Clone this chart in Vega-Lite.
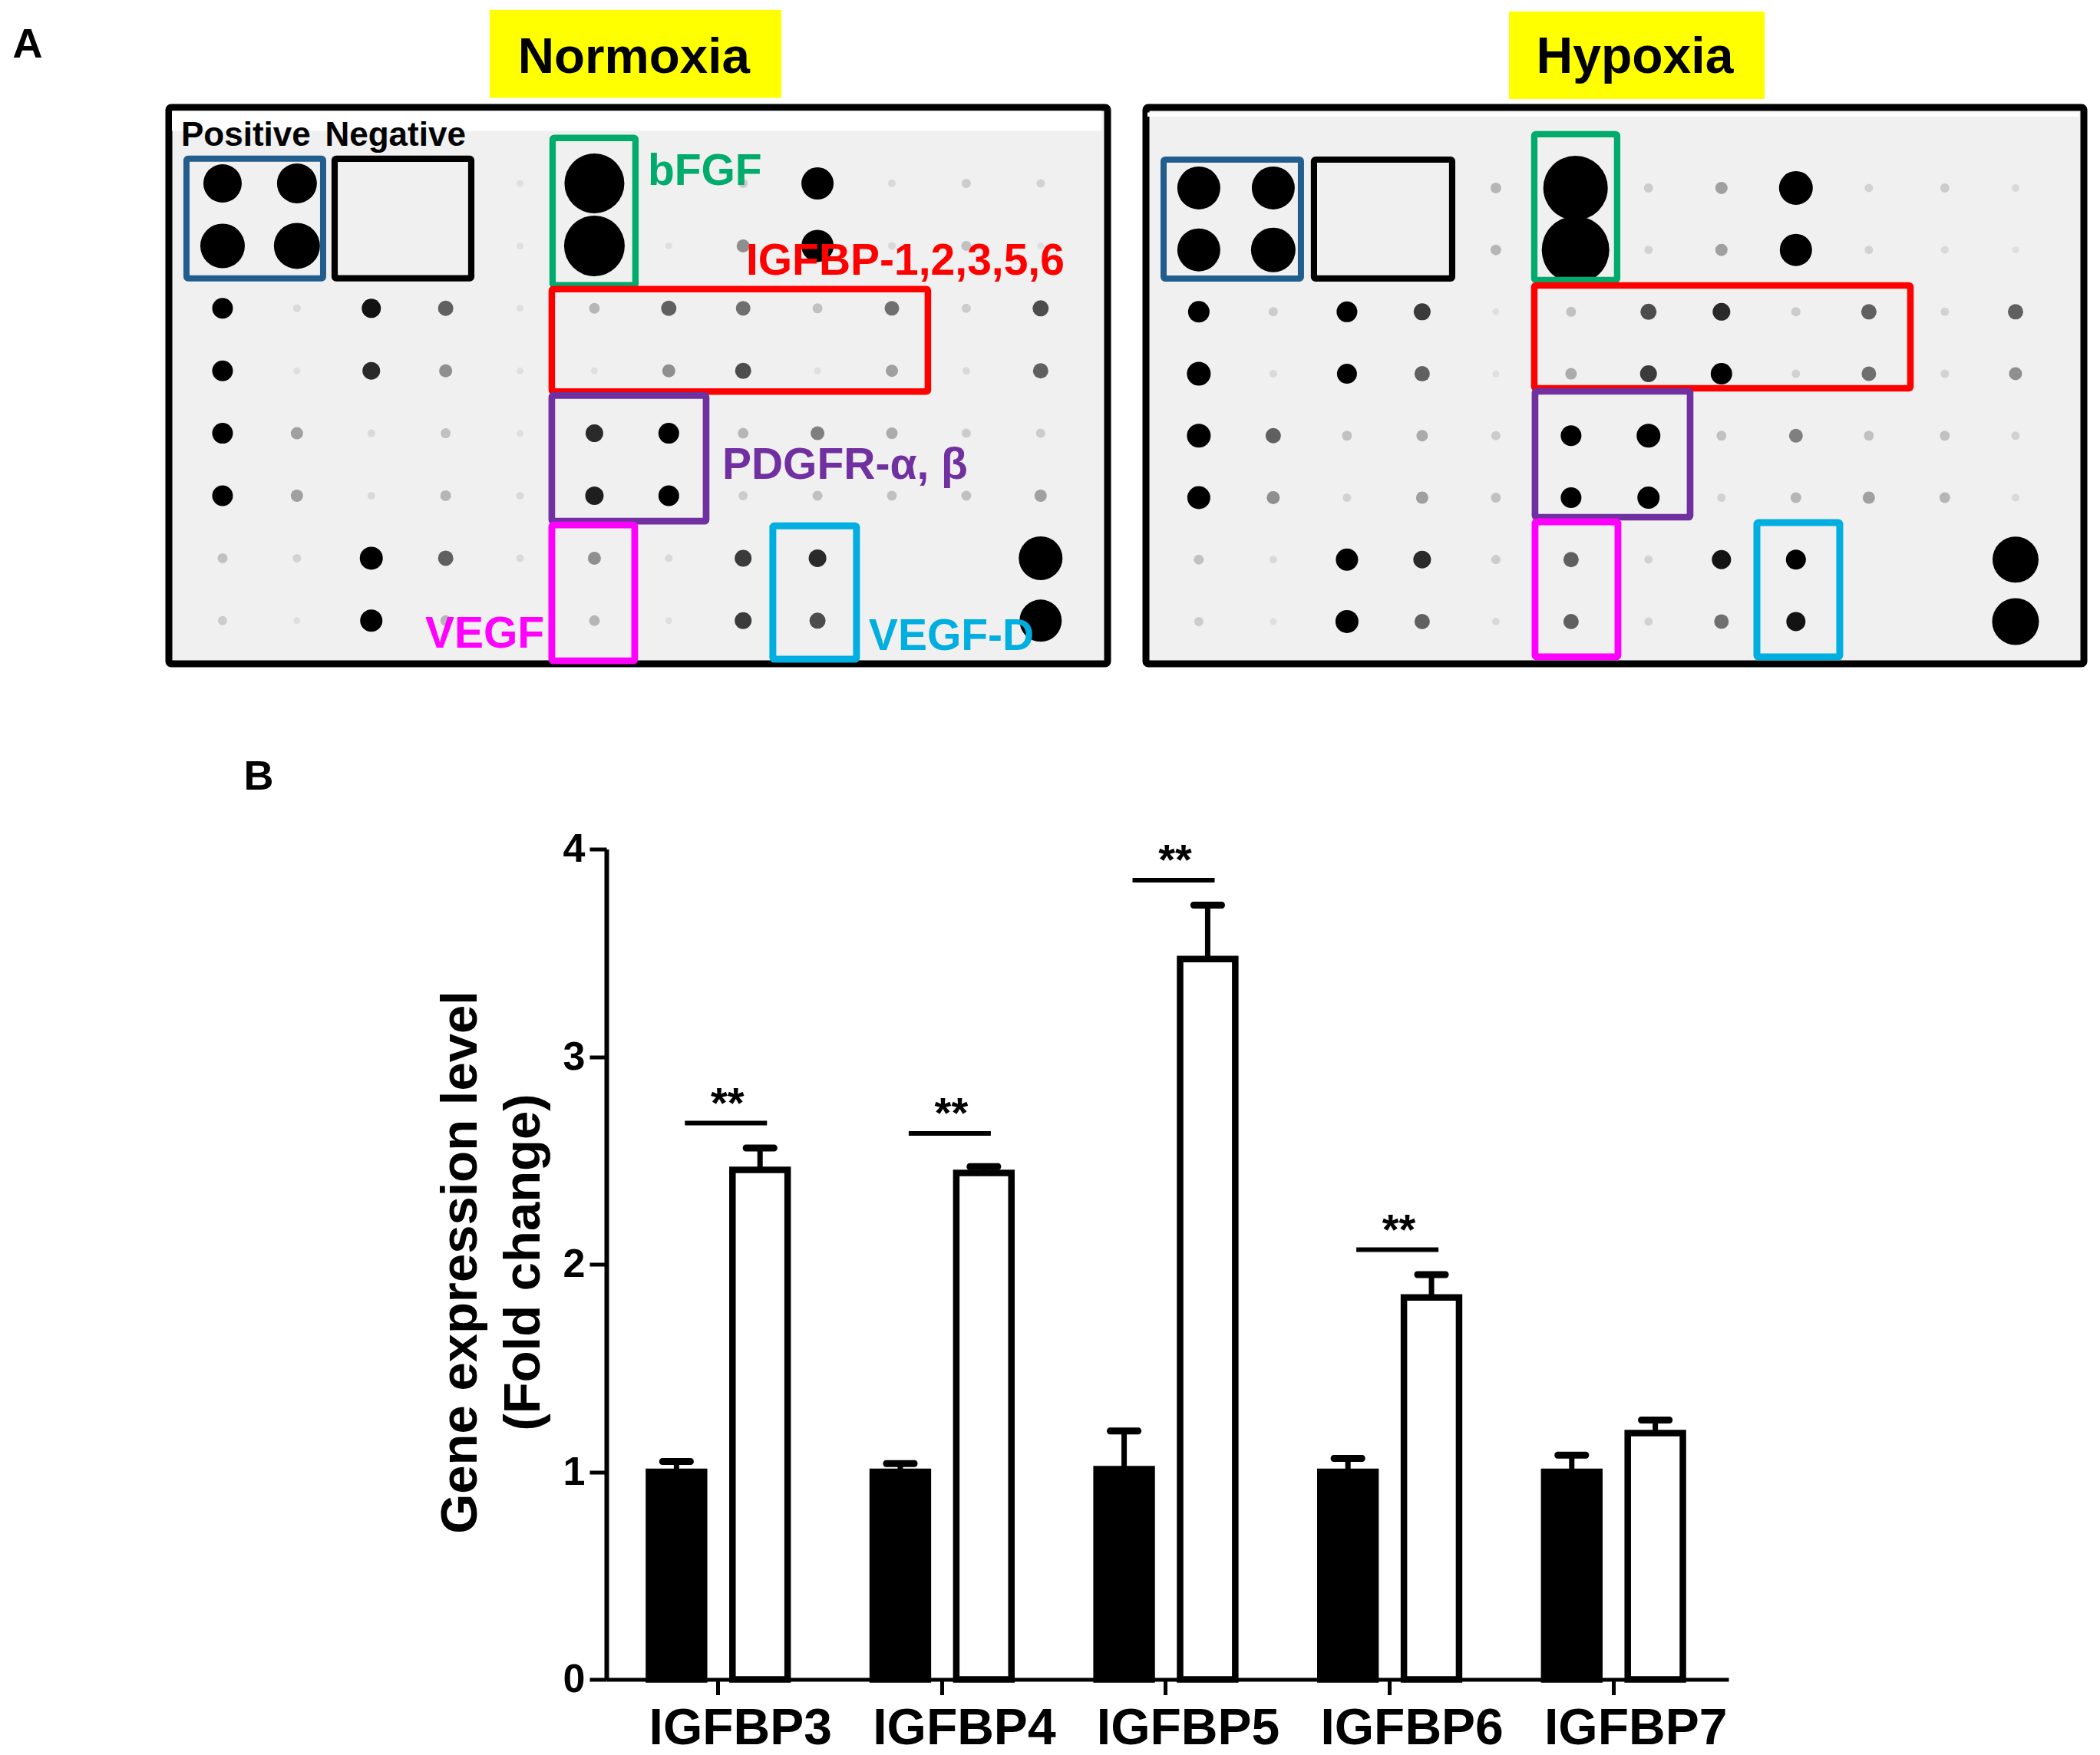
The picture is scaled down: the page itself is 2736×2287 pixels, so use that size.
{"$schema":"https://vega.github.io/schema/vega-lite/v6.json","background":"white","padding":{"left":12,"top":8,"right":0,"bottom":0},"spacing":966.5,"bounds":"flush","config":{"font":"Liberation Sans","view":{"stroke":null}},
"datasets":{
"normoxia_spots":[
{"col":1,"row":1,"signal":50},{"col":2,"row":1,"signal":52},{"col":5,"row":1,"signal":9},{"col":6,"row":1,"signal":78},{"col":8,"row":1,"signal":12},{"col":9,"row":1,"signal":42},{"col":10,"row":1,"signal":10},{"col":11,"row":1,"signal":12},{"col":12,"row":1,"signal":11},
{"col":1,"row":2,"signal":58},{"col":2,"row":2,"signal":60},{"col":5,"row":2,"signal":9},{"col":6,"row":2,"signal":79},{"col":7,"row":2,"signal":9},{"col":8,"row":2,"signal":17},{"col":9,"row":2,"signal":42},{"col":10,"row":2,"signal":10},{"col":11,"row":2,"signal":13},{"col":12,"row":2,"signal":9},
{"col":1,"row":3,"signal":27},{"col":2,"row":3,"signal":10},{"col":3,"row":3,"signal":25},{"col":4,"row":3,"signal":20},{"col":5,"row":3,"signal":9},{"col":6,"row":3,"signal":14},{"col":7,"row":3,"signal":20},{"col":8,"row":3,"signal":19},{"col":9,"row":3,"signal":13},{"col":10,"row":3,"signal":19},{"col":11,"row":3,"signal":12},{"col":12,"row":3,"signal":21},
{"col":1,"row":4,"signal":27},{"col":2,"row":4,"signal":9},{"col":3,"row":4,"signal":23},{"col":4,"row":4,"signal":17},{"col":5,"row":4,"signal":9},{"col":6,"row":4,"signal":9},{"col":7,"row":4,"signal":17},{"col":8,"row":4,"signal":21},{"col":9,"row":4,"signal":9},{"col":10,"row":4,"signal":16},{"col":11,"row":4,"signal":10},{"col":12,"row":4,"signal":20},
{"col":1,"row":5,"signal":27},{"col":2,"row":5,"signal":16},{"col":3,"row":5,"signal":10},{"col":4,"row":5,"signal":13},{"col":5,"row":5,"signal":9},{"col":6,"row":5,"signal":23},{"col":7,"row":5,"signal":27},{"col":8,"row":5,"signal":14},{"col":9,"row":5,"signal":18},{"col":10,"row":5,"signal":15},{"col":11,"row":5,"signal":12},{"col":12,"row":5,"signal":12},
{"col":1,"row":6,"signal":27},{"col":2,"row":6,"signal":16},{"col":3,"row":6,"signal":10},{"col":4,"row":6,"signal":14},{"col":5,"row":6,"signal":10},{"col":6,"row":6,"signal":24},{"col":7,"row":6,"signal":27},{"col":8,"row":6,"signal":12},{"col":9,"row":6,"signal":13},{"col":10,"row":6,"signal":13},{"col":11,"row":6,"signal":13},{"col":12,"row":6,"signal":16},
{"col":1,"row":7,"signal":13},{"col":2,"row":7,"signal":11},{"col":3,"row":7,"signal":30},{"col":4,"row":7,"signal":20},{"col":5,"row":7,"signal":10},{"col":6,"row":7,"signal":17},{"col":7,"row":7,"signal":10},{"col":8,"row":7,"signal":22},{"col":9,"row":7,"signal":23},{"col":12,"row":7,"signal":57},
{"col":1,"row":8,"signal":12},{"col":2,"row":8,"signal":9},{"col":3,"row":8,"signal":29},{"col":4,"row":8,"signal":14},{"col":6,"row":8,"signal":14},{"col":7,"row":8,"signal":9},{"col":8,"row":8,"signal":22},{"col":9,"row":8,"signal":21},{"col":12,"row":8,"signal":55}],
"hypoxia_spots":[
{"col":1.03,"row":1,"signal":56},{"col":2.03,"row":1,"signal":56},{"col":5.02,"row":1,"signal":14},{"col":6.09,"row":1,"signal":84},{"col":7.07,"row":1,"signal":12},{"col":8.05,"row":1,"signal":16},{"col":9.05,"row":1,"signal":44},{"col":10.03,"row":1,"signal":11},{"col":11.05,"row":1,"signal":12},{"col":12,"row":1,"signal":10},
{"col":1.03,"row":2,"signal":56},{"col":2.03,"row":2,"signal":58},{"col":5.02,"row":2,"signal":14},{"col":6.09,"row":2,"signal":88},{"col":7.07,"row":2,"signal":11},{"col":8.05,"row":2,"signal":16},{"col":9.05,"row":2,"signal":42},{"col":10.03,"row":2,"signal":11},{"col":11.05,"row":2,"signal":10},{"col":12,"row":2,"signal":9},
{"col":1.03,"row":3,"signal":28},{"col":2.03,"row":3,"signal":12},{"col":3.02,"row":3,"signal":27},{"col":4.03,"row":3,"signal":22},{"col":5.02,"row":3,"signal":9},{"col":6.03,"row":3,"signal":13},{"col":7.07,"row":3,"signal":21},{"col":8.05,"row":3,"signal":23},{"col":9.05,"row":3,"signal":12},{"col":10.03,"row":3,"signal":20},{"col":11.05,"row":3,"signal":11},{"col":12,"row":3,"signal":20},
{"col":1.03,"row":4,"signal":31},{"col":2.03,"row":4,"signal":10},{"col":3.02,"row":4,"signal":26},{"col":4.03,"row":4,"signal":20},{"col":5.02,"row":4,"signal":9},{"col":6.03,"row":4,"signal":15},{"col":7.07,"row":4,"signal":22},{"col":8.05,"row":4,"signal":28},{"col":9.05,"row":4,"signal":11},{"col":10.03,"row":4,"signal":19},{"col":11.05,"row":4,"signal":11},{"col":12,"row":4,"signal":17},
{"col":1.03,"row":5,"signal":31},{"col":2.03,"row":5,"signal":20},{"col":3.02,"row":5,"signal":13},{"col":4.03,"row":5,"signal":15},{"col":5.02,"row":5,"signal":12},{"col":6.03,"row":5,"signal":27},{"col":7.07,"row":5,"signal":31},{"col":8.05,"row":5,"signal":13},{"col":9.05,"row":5,"signal":18},{"col":10.03,"row":5,"signal":13},{"col":11.05,"row":5,"signal":13},{"col":12,"row":5,"signal":11},
{"col":1.03,"row":6,"signal":30},{"col":2.03,"row":6,"signal":17},{"col":3.02,"row":6,"signal":11},{"col":4.03,"row":6,"signal":16},{"col":5.02,"row":6,"signal":13},{"col":6.03,"row":6,"signal":27},{"col":7.07,"row":6,"signal":29},{"col":8.05,"row":6,"signal":11},{"col":9.05,"row":6,"signal":14},{"col":10.03,"row":6,"signal":16},{"col":11.05,"row":6,"signal":14},{"col":12,"row":6,"signal":10},
{"col":1.03,"row":7,"signal":13},{"col":2.03,"row":7,"signal":10},{"col":3.02,"row":7,"signal":29},{"col":4.03,"row":7,"signal":23},{"col":5.02,"row":7,"signal":12},{"col":6.03,"row":7,"signal":20},{"col":7.07,"row":7,"signal":11},{"col":8.05,"row":7,"signal":25},{"col":9.05,"row":7,"signal":26},{"col":12,"row":7,"signal":60},
{"col":1.03,"row":8,"signal":12},{"col":2.03,"row":8,"signal":9},{"col":3.02,"row":8,"signal":30},{"col":4.03,"row":8,"signal":20},{"col":5.02,"row":8,"signal":10},{"col":6.03,"row":8,"signal":20},{"col":7.07,"row":8,"signal":11},{"col":8.05,"row":8,"signal":19},{"col":9.05,"row":8,"signal":25},{"col":12,"row":8,"signal":61}],
"normoxia_boxes":[
{"target":"Positive","c1":0.515,"c2":2.352,"r1":0.605,"r2":2.519},{"target":"Negative","c1":2.507,"c2":4.344,"r1":0.605,"r2":2.519},{"target":"bFGF","c1":5.438,"c2":6.552,"r1":0.272,"r2":2.63},{"target":"IGFBP","c1":5.427,"c2":10.484,"r1":2.691,"r2":4.333},{"target":"PDGFR","c1":5.427,"c2":7.502,"r1":4.395,"r2":6.407},{"target":"VEGF","c1":5.427,"c2":6.542,"r1":6.469,"r2":8.642},{"target":"VEGF-D","c1":8.399,"c2":9.524,"r1":6.481,"r2":8.617}],
"hypoxia_boxes":[
{"target":"Positive","c1":0.557,"c2":2.402,"r1":0.542,"r2":2.462},{"target":"Negative","c1":2.577,"c2":4.433,"r1":0.542,"r2":2.462},{"target":"bFGF","c1":5.536,"c2":6.649,"r1":0.133,"r2":2.487},{"target":"IGFBP","c1":5.536,"c2":10.588,"r1":2.574,"r2":4.234},{"target":"PDGFR","c1":5.546,"c2":7.629,"r1":4.284,"r2":6.316},{"target":"VEGF","c1":5.546,"c2":6.66,"r1":6.39,"r2":8.571},{"target":"VEGF-D","c1":8.526,"c2":9.639,"r1":6.403,"r2":8.571}],
"expression":[
{"gene":"IGFBP3","group":"Normoxia","value":1.0,"upper":1.05},{"gene":"IGFBP3","group":"Hypoxia","value":2.455,"upper":2.56},
{"gene":"IGFBP4","group":"Normoxia","value":1.0,"upper":1.04},{"gene":"IGFBP4","group":"Hypoxia","value":2.44,"upper":2.47},
{"gene":"IGFBP5","group":"Normoxia","value":1.013,"upper":1.197},{"gene":"IGFBP5","group":"Hypoxia","value":3.47,"upper":3.73},
{"gene":"IGFBP6","group":"Normoxia","value":1.0,"upper":1.065},{"gene":"IGFBP6","group":"Hypoxia","value":1.84,"upper":1.95},
{"gene":"IGFBP7","group":"Normoxia","value":1.0,"upper":1.08},{"gene":"IGFBP7","group":"Hypoxia","value":1.187,"upper":1.25}],
"significance":[{"gene":"IGFBP3","level":2.68,"stars":"**"},{"gene":"IGFBP4","level":2.63,"stars":"**"},{"gene":"IGFBP5","level":3.85,"stars":"**"},{"gene":"IGFBP6","level":2.07,"stars":"**"}]
},
"vconcat":[
{"hconcat":[
{"width":1223,"height":725,"view":{"fill":"#f0f0f0","stroke":"black","strokeWidth":9,"cornerRadius":3},
"layer":[
{"data":{"values":[{"c1":0.32,"c2":12.82,"r1":-0.16,"r2":0.16}]},"mark":{"type":"rect","fill":"#ffffff"},"encoding":{"x":{"field":"c1","type":"quantitative","axis":null,"scale":{"domain":[0.278,12.9],"nice":false,"zero":false}},"x2":{"field":"c2"},"y":{"field":"r1","type":"quantitative","axis":null,"scale":{"domain":[8.69,-0.216],"nice":false,"zero":false}},"y2":{"field":"r2"}}},
{"data":{"values":[{"c1":4.591,"c2":8.513,"r1":-1.778,"r2":-0.37}]},"mark":{"type":"rect","fill":"#ffff00"},"encoding":{"x":{"field":"c1","type":"quantitative"},"x2":{"field":"c2"},"y":{"field":"r1","type":"quantitative"},"y2":{"field":"r2"}}},
{"data":{"name":"normoxia_spots"},"mark":{"type":"circle","opacity":1},"encoding":{"x":{"field":"col","type":"quantitative"},"y":{"field":"row","type":"quantitative"},"size":{"field":"signal","type":"quantitative","legend":null,"scale":{"type":"pow","exponent":2,"domain":[0,100],"range":[0,10000]}},"fill":{"field":"signal","type":"quantitative","legend":null,"scale":{"domain":[8,12,16,20,23,26],"range":["#e6e6e6","#cccccc","#a0a0a0","#606060","#2a2a2a","#000000"],"clamp":true}}}},
{"data":{"name":"normoxia_boxes"},"mark":{"type":"rect","filled":false,"cornerRadius":2},"encoding":{"x":{"field":"c1","type":"quantitative"},"x2":{"field":"c2"},"y":{"field":"r1","type":"quantitative"},"y2":{"field":"r2"},"stroke":{"field":"target","type":"nominal","legend":null,"scale":{"domain":["Positive","Negative","bFGF","IGFBP","PDGFR","VEGF","VEGF-D"],"range":["#215e8e","#000000","#00ab6c","#ff0000","#7030a0","#ff00ff","#00aee0"]}},"strokeWidth":{"field":"target","type":"nominal","legend":null,"scale":{"domain":["Positive","Negative","bFGF","IGFBP","PDGFR","VEGF","VEGF-D"],"range":[8,9,6,5,5,6,6]}}}},
{"data":{"values":[{"c":6.53,"r":-0.765,"t":"Normoxia"}]},"mark":{"type":"text","fontSize":65.5,"fontWeight":"bold","baseline":"alphabetic","align":"center","fill":"black"},"encoding":{"x":{"field":"c","type":"quantitative"},"y":{"field":"r","type":"quantitative"},"text":{"field":"t"}}},
{"data":{"values":[{"c":-1.62,"r":-1.012,"t":"A"},{"c":1.485,"r":10.7,"t":"B"}]},"mark":{"type":"text","fontSize":54,"fontWeight":"bold","baseline":"alphabetic","align":"center","fill":"black"},"encoding":{"x":{"field":"c","type":"quantitative"},"y":{"field":"r","type":"quantitative"},"text":{"field":"t"}}},
{"data":{"values":[{"c":0.443,"r":0.395,"t":"Positive"},{"c":2.378,"r":0.395,"t":"Negative"}]},"mark":{"type":"text","fontSize":44,"fontWeight":"bold","baseline":"alphabetic","align":"left","fill":"black"},"encoding":{"x":{"field":"c","type":"quantitative"},"y":{"field":"r","type":"quantitative"},"text":{"field":"t"}}},
{"data":{"values":[{"c":6.717,"r":1.02,"t":"bFGF","k":"bFGF"},{"c":8.038,"r":2.457,"t":"IGFBP-1,2,3,5,6","k":"IGFBP"},{"c":7.718,"r":5.728,"t":"PDGFR-α, β","k":"PDGFR"},{"c":3.724,"r":8.43,"t":"VEGF","k":"VEGF"},{"c":9.689,"r":8.47,"t":"VEGF-D","k":"VEGF-D"}]},"mark":{"type":"text","fontSize":57,"fontWeight":"bold","baseline":"alphabetic","align":"left"},"encoding":{"x":{"field":"c","type":"quantitative"},"y":{"field":"r","type":"quantitative"},"text":{"field":"t"},"color":{"field":"k","type":"nominal","legend":null,"scale":{"domain":["bFGF","IGFBP","PDGFR","VEGF","VEGF-D"],"range":["#00ab6c","#ff0000","#7030a0","#ff00ff","#00aee0"]}}}}
]},
{"width":1222,"height":725,"view":{"fill":"#f0f0f0","stroke":"black","strokeWidth":9,"cornerRadius":3},
"layer":[
{"data":{"values":[{"c1":0.34,"c2":12.85,"r1":-0.22,"r2":-0.15}]},"mark":{"type":"rect","fill":"#ffffff"},"encoding":{"x":{"field":"c1","type":"quantitative","axis":null,"scale":{"domain":[0.32,12.918],"nice":false,"zero":false}},"x2":{"field":"c2"},"y":{"field":"r1","type":"quantitative","axis":null,"scale":{"domain":[8.682,-0.3],"nice":false,"zero":false}},"y2":{"field":"r2"}}},
{"data":{"values":[{"c1":5.196,"c2":8.629,"r1":-1.85,"r2":-0.437}]},"mark":{"type":"rect","fill":"#ffff00"},"encoding":{"x":{"field":"c1","type":"quantitative"},"x2":{"field":"c2"},"y":{"field":"r1","type":"quantitative"},"y2":{"field":"r2"}}},
{"data":{"name":"hypoxia_spots"},"mark":{"type":"circle","opacity":1},"encoding":{"x":{"field":"col","type":"quantitative"},"y":{"field":"row","type":"quantitative"},"size":{"field":"signal","type":"quantitative","legend":null,"scale":{"type":"pow","exponent":2,"domain":[0,100],"range":[0,10000]}},"fill":{"field":"signal","type":"quantitative","legend":null,"scale":{"domain":[8,12,16,20,23,26],"range":["#e6e6e6","#cccccc","#a0a0a0","#606060","#2a2a2a","#000000"],"clamp":true}}}},
{"data":{"name":"hypoxia_boxes"},"mark":{"type":"rect","filled":false,"cornerRadius":2},"encoding":{"x":{"field":"c1","type":"quantitative"},"x2":{"field":"c2"},"y":{"field":"r1","type":"quantitative"},"y2":{"field":"r2"},"stroke":{"field":"target","type":"nominal","legend":null,"scale":{"domain":["Positive","Negative","bFGF","IGFBP","PDGFR","VEGF","VEGF-D"],"range":["#215e8e","#000000","#00ab6c","#ff0000","#7030a0","#ff00ff","#00aee0"]}},"strokeWidth":{"field":"target","type":"nominal","legend":null,"scale":{"domain":["Positive","Negative","bFGF","IGFBP","PDGFR","VEGF","VEGF-D"],"range":[8,9,6,5,5,6,6]}}}},
{"data":{"values":[{"c":6.887,"r":-0.86,"t":"Hypoxia"}]},"mark":{"type":"text","fontSize":66,"fontWeight":"bold","baseline":"alphabetic","align":"center","fill":"black"},"encoding":{"x":{"field":"c","type":"quantitative"},"y":{"field":"r","type":"quantitative"},"text":{"field":"t"}}}
]}
],"spacing":50,"bounds":"flush"},
{"hconcat":[
{"width":570,"height":1082,"data":{"values":[{"v":0}]},"mark":{"type":"rule","opacity":0},"encoding":{}},
{"width":1462,"height":1082,"data":{"name":"expression"},
"layer":[
{"mark":{"type":"rule","strokeWidth":7,"color":"black"},"encoding":{"x":{"field":"gene","type":"nominal","title":null,"scale":{"paddingInner":0,"paddingOuter":0.00686,"align":0},"axis":{"labelAngle":0,"labelFontSize":66,"labelFontWeight":"bold","labelFont":"Liberation Sans","labelColor":"black","labelOffset":29,"labelPadding":12,"labelOverlap":false,"labelLimit":0,"domainWidth":5,"domainColor":"black","tickWidth":5,"tickColor":"black","tickSize":20}},"xOffset":{"field":"group","sort":["Normoxia","Hypoxia"],"scale":{"domain":["Normoxia","Hypoxia"],"paddingInner":0.34,"paddingOuter":0.5095}},"y":{"field":"value","type":"quantitative","title":["Gene expression level","(Fold change)"],"scale":{"domain":[0,4],"nice":false},"axis":{"values":[0,1,2,3,4],"format":"d","labelFontSize":52,"labelFontWeight":"bold","labelFont":"Liberation Sans","labelColor":"black","labelPadding":6,"domainWidth":6,"domainColor":"black","tickWidth":5,"tickColor":"black","tickSize":22,"grid":false,"titleFontSize":67,"titleFontWeight":"bold","titleFont":"Liberation Sans","titleColor":"black","titleLineHeight":82,"titlePadding":17,"titleY":538}},"y2":{"field":"upper"}}},
{"mark":{"type":"tick","thickness":9,"size":45,"color":"black","cornerRadius":4,"opacity":1},"encoding":{"x":{"field":"gene","type":"nominal"},"xOffset":{"field":"group"},"y":{"field":"upper","type":"quantitative"}}},
{"mark":{"type":"bar","stroke":"black","strokeWidth":8.5},"encoding":{"x":{"field":"gene","type":"nominal"},"xOffset":{"field":"group"},"y":{"field":"value","type":"quantitative"},"fill":{"field":"group","type":"nominal","legend":null,"scale":{"domain":["Normoxia","Hypoxia"],"range":["#000000","#ffffff"]}}}},
{"data":{"name":"significance"},"mark":{"type":"tick","thickness":6,"size":107,"color":"black","xOffset":10,"opacity":1},"encoding":{"x":{"field":"gene","type":"nominal"},"y":{"field":"level","type":"quantitative"}}},
{"data":{"name":"significance"},"mark":{"type":"text","fontSize":56,"fontWeight":"bold","baseline":"alphabetic","dx":12,"dy":-8,"fill":"black"},"encoding":{"x":{"field":"gene","type":"nominal"},"y":{"field":"level","type":"quantitative"},"text":{"field":"stars"}}}
]}
],"spacing":0,"bounds":"flush"}
]}
